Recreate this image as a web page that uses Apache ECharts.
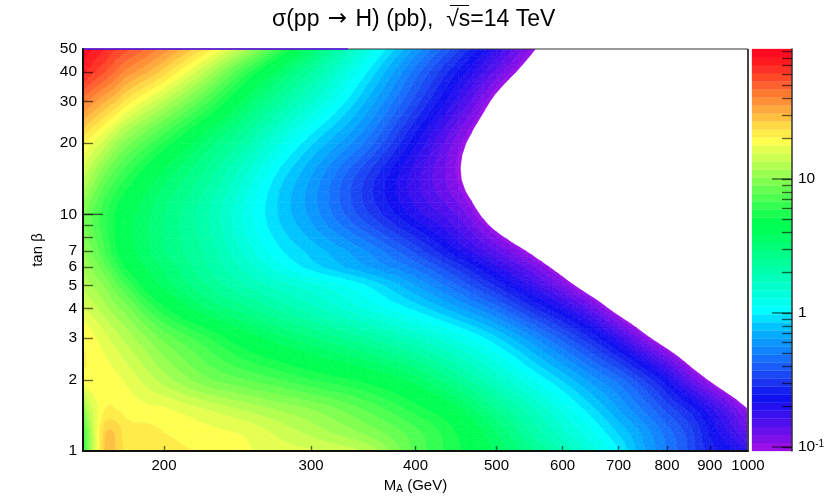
<!DOCTYPE html>
<html><head><meta charset="utf-8">
<style>html,body{margin:0;padding:0;background:#fff}#c{width:831px;height:503px}</style>
<script src="https://cdn.jsdelivr.net/npm/echarts@6/dist/echarts.min.js"></script>
</head><body><div id="c"></div>
<script>
const titleText = 'σ(pp {a|→} H) (pb),  √s=14 TeV';
const maValues = [160,163,170,175,180,190,200,225,250,275,300,350,400,450,500,550,600,650,700,750,800,850,900,950,1000];
const tanbValues = [1,1.2,1.5,2,3,4,5,6,7,10,14,20,30,40,50];
// log10(sigma / pb), one row per tan beta
const tb1   = [.75,1.02,1.43,1.43,1.35,1.34,1.33,1.30,1.26,1.22,1.20,1.12,.87,.72,.58,.43,.29,.14,0,-.18,-.31,-.44,-.58,-.64,-.72];
const tb1p2 = [.8,1.05,1.42,1.42,1.34,1.33,1.31,1.27,1.24,1.17,1.11,.99,.85,.70,.53,.34,.19,.06,-.08,-.21,-.34,-.46,-.62,-.74,-.87];
const tb1p5 = [.98,1.15,1.31,1.31,1.29,1.27,1.26,1.19,1.12,1.06,1.01,.88,.74,.61,.41,.25,.09,-.05,-.19,-.32,-.45,-.57,-.71,-.85,-1.0];
const tb2   = [1.28,1.29,1.29,1.27,1.24,1.17,1.10,.96,.89,.83,.77,.68,.56,.39,.22,.06,-.08,-.22,-.34,-.49,-.66,-.86,-1.02,-1.17,-1.32];
const tb3   = [1.30,1.28,1.21,1.16,1.11,1.02,.93,.78,.64,.55,.48,.35,.22,.09,-.06,-.23,-.40,-.56,-.75,-.95,-1.12,-1.27,-1.42,-1.55,-1.70];
const tb4   = [1.2,1.17,1.09,1.03,.98,.84,.72,.53,.43,.33,.25,.10,-.03,-.18,-.34,-.53,-.69,-.87,-1.08,-1.24,-1.38,-1.52,-1.66,-1.8,-1.9];
const tb5   = [1.12,1.08,1.0,.91,.83,.67,.57,.41,.29,.2,.13,-.01,-.19,-.37,-.56,-.74,-.92,-1.12,-1.3,-1.45,-1.6,-1.75,-1.9,-2,-2.1];
const tb6   = [1.06,1.02,.9,.8,.7,.59,.52,.35,.21,.07,-.04,-.19,-.33,-.52,-.72,-.89,-1.09,-1.3,-1.45,-1.6,-1.75,-1.9,-2,-2.15,-2.25];
const tb7   = [1.02,.97,.83,.72,.64,.55,.47,.33,.15,0,-.09,-.25,-.45,-.67,-.85,-1.03,-1.25,-1.45,-1.6,-1.75,-1.9,-2.05,-2.2,-2.3,-2.4];
const tb10  = [.97,.91,.78,.70,.63,.55,.47,.3,.09,-.08,-.21,-.48,-.7,-.86,-1.12,-1.35,-1.55,-1.72,-1.85,-2,-2.1,-2.2,-2.3,-2.4,-2.5];
const tb14  = [1.13,1.07,.91,.83,.76,.64,.55,.37,.16,-.05,-.2,-.51,-.77,-.98,-1.25,-1.5,-1.7,-1.85,-2,-2.1,-2.2,-2.3,-2.4,-2.5,-2.6];
const tb20  = [1.33,1.27,1.16,1.06,.98,.86,.75,.51,.32,.11,-.06,-.33,-.66,-.95,-1.2,-1.45,-1.65,-1.8,-1.95,-2.05,-2.15,-2.25,-2.35,-2.45,-2.55];
const tb30  = [1.63,1.59,1.49,1.43,1.35,1.23,1.12,.84,.57,.36,.19,-.14,-.46,-.76,-1.05,-1.3,-1.5,-1.7,-1.85,-2,-2.1,-2.2,-2.3,-2.4,-2.5];
const tb40  = [1.87,1.82,1.73,1.66,1.59,1.5,1.40,1.11,.80,.55,.36,-.01,-.34,-.62,-.87,-1.1,-1.3,-1.5,-1.7,-1.9,-2.1,-2.2,-2.3,-2.4,-2.5];
const tb50  = [1.95,1.92,1.85,1.79,1.75,1.67,1.58,1.35,1.09,.80,.54,.12,-.21,-.48,-.74,-.97,-1.2,-1.4,-1.6,-1.8,-2,-2.1,-2.2,-2.3,-2.4];
const logSigma = [tb1,tb1p2,tb1p5,tb2,tb3,tb4,tb5,tb6,tb7,tb10,tb14,tb20,tb30,tb40,tb50];

// contour levels in log10(sigma): 50 equal bands, lowest first
const levels = [-1.03,-.97,-.91,-.85,-.79,-.73,-.67,-.61,-.55,-.49,-.43,-.37,-.31,-.25,-.19,-.13,-.07,-.01,.05,.11,.17,.23,.29,.35,.41,.47,.53,.59,.65,.71,.77,.83,.89,.95,1.01,1.07,1.13,1.19,1.25,1.31,1.37,1.43,1.49,1.55,1.61,1.67,1.73,1.79,1.85,1.91,1.97];
const palette = ['#9a10e8','#8010ea','#6810ec','#5010ee','#3a10ee','#2410f0','#1010f0','#1420f0','#1a34f0','#1a48f4','#1a5cf8','#1670fc','#1084ff','#0a98ff','#04acff','#00c4ff','#00e0ff','#00ffff','#00ffee','#00ffdd','#00ffcc','#00ffbb','#00ffaa','#00ff99','#00ff88','#00ff77','#00ff66','#00ff55','#00ff50','#1aff50','#33ff50','#4dff50','#66ff50','#80ff50','#99ff50','#b3ff50','#ccff50','#e5ff50','#ffff50','#ffec48','#ffd845','#ffc040','#ffa83d','#ff9038','#ff7830','#ff6030','#ff4828','#ff3025','#ff1a20','#ff0a20'];
const topStripMA = [160,332];
const topStripTanb = [50,50];
const rightFrameMA = [1000,1000];
const rightFrameTanb = [1,50];
const xTickValues = [200,300,400,500,600,700,800,900];
const xLabelValues = [200,300,400,500,600,700,800,900,1000];
const yTickValues = [2,3,4,5,6,7,8,9,10,20,30,40];
const yLongTicks = [10];
const yLabelValues = [1,2,3,4,5,6,7,10,20,30,40,50];
const zAllTicks = [.1,.2,.3,.4,.5,.6,.7,.8,.9,1,2,3,4,5,6,7,8,9,10,20,30,40,50,60,70,80,90];
const zMajorTicks = [.1,1,10];

const FONT = '"Liberation Sans", Arial, sans-serif';
const fillFloor = -1.0;
const SUB = 3;

function clipPoly(poly, lim, above) {
  const out = [];
  const keep = p => above ? p[2] >= lim : p[2] <= lim;
  for (let k = 0; k < poly.length; k++) {
    const a = poly[k], b = poly[(k + 1) % poly.length];
    const ka = keep(a), kb = keep(b);
    if (ka) out.push(a);
    if (ka !== kb) {
      const t = (lim - a[2]) / (b[2] - a[2]);
      out.push([a[0] + t * (b[0] - a[0]), a[1] + t * (b[1] - a[1]), lim]);
    }
  }
  return out;
}

// Smooth contour surface through the read values (cubic Hermite drawing aid only)
function refine1D(xs, fs) {
  const n = xs.length, m = [], outX = [], outF = [];
  for (let i = 0; i < n; i++) {
    const a = Math.max(0, i - 1), b = Math.min(n - 1, i + 1);
    m.push((fs[b] - fs[a]) / (xs[b] - xs[a]));
  }
  for (let i = 0; i < n - 1; i++) {
    const h = xs[i + 1] - xs[i];
    for (let s = 0; s < SUB; s++) {
      const t = s / SUB, t2 = t * t, t3 = t2 * t;
      outX.push(xs[i] + t * h);
      outF.push((2*t3-3*t2+1)*fs[i] + (t3-2*t2+t)*h*m[i] + (-2*t3+3*t2)*fs[i+1] + (t3-t2)*h*m[i+1]);
    }
  }
  outX.push(xs[n - 1]); outF.push(fs[n - 1]);
  return [outX, outF];
}
const logX = maValues.map(Math.log10), logY = tanbValues.map(Math.log10);
const rowFine = logSigma.map(r => refine1D(logX, r));
const fineX = rowFine[0][0];
const colFine = fineX.map((_, i) => refine1D(logY, rowFine.map(r => r[1][i])));
const fineY = colFine[0][0];
const fineV = (i, j) => colFine[i][1][j];

const nodes = [];
tanbValues.forEach((t, j) => maValues.forEach((m, i) => nodes.push([m, t, logSigma[j][i]])));
const nx = maValues.length, ny = tanbValues.length;

function renderContourCell(params, api) {
  const idx = params.dataIndex, i = idx % nx, j = Math.floor(idx / nx);
  if (i >= nx - 1 || j >= ny - 1) return null;
  const children = [];
  const P = (a, b) => [fineX[a], fineY[b], fineV(a, b)];
  for (let si = i * SUB; si < (i + 1) * SUB; si++) {
    for (let sj = j * SUB; sj < (j + 1) * SUB; sj++) {
      const c0 = P(si, sj), c1 = P(si + 1, sj), c2 = P(si + 1, sj + 1), c3 = P(si, sj + 1);
      for (const tri of [[c0, c1, c2], [c0, c2, c3]]) {
        const vs = tri.map(p => p[2]);
        const vmin = Math.min(...vs), vmax = Math.max(...vs);
        for (let b = 0; b < palette.length; b++) {
          const lo = b === 0 ? fillFloor : levels[b];
          const hi = b === palette.length - 1 ? 9 : levels[b + 1];
          if (hi < vmin || lo > vmax) continue;
          let poly = clipPoly(tri, lo, true);
          if (poly.length < 3) continue;
          poly = clipPoly(poly, hi, false);
          if (poly.length < 3) continue;
          const points = poly.map(p => api.coord([Math.pow(10, p[0]), Math.pow(10, p[1])]));
          children.push({type: 'polygon', shape: {points}, style: {fill: palette[b], stroke: palette[b], lineWidth: .6}});
        }
      }
    }
  }
  return {type: 'group', children};
}

function renderBarBand(params, api) {
  const b = api.value(0);
  const p0 = api.coord([0, Math.pow(10, levels[b])]);
  const p1 = api.coord([1, Math.pow(10, levels[b + 1])]);
  return {type: 'rect', shape: {x: p0[0], y: p1[1], width: p1[0] - p0[0], height: p0[1] - p1[1]},
    style: {fill: palette[b], stroke: palette[b], lineWidth: .3}};
}
const tickLine = {stroke: '#000', opacity: .6, lineWidth: 1.4};
function renderLongTickLeft(params, api) {
  const p = api.coord([api.value(0), api.value(1)]);
  return {type: 'line', shape: {x1: p[0], y1: p[1], x2: p[0] + 20, y2: p[1]}, style: tickLine};
}
function renderLongTickRight(params, api) {
  const p = api.coord([api.value(0), api.value(1)]);
  return {type: 'line', shape: {x1: p[0], y1: p[1], x2: p[0] - 20, y2: p[1]}, style: tickLine};
}

const tickStyle = {color: '#000', opacity: .6, width: 1.4};
const chart = echarts.init(document.getElementById('c'), null, {renderer: 'canvas'});
chart.setOption({
  animation: false,
  backgroundColor: '#fff',
  title: {text: titleText, left: 267, top: 3, textStyle: {fontFamily: FONT, fontSize: 23, fontWeight: 'normal', color: '#000',
    rich: {a: {fontFamily: '"DejaVu Sans"', fontSize: 23, color: '#000', padding: [0, 2, 0, 2]}}}},
  graphic: [{type: 'line', shape: {x1: 450, y1: 5.5, x2: 469, y2: 5.5}, style: {stroke: '#000', lineWidth: 1}, z: 50}],
  grid: [
    {left: 83, top: 49, width: 665, height: 402, show: true, borderColor: '#333', borderWidth: 1, z: 5},
    {left: 752, top: 49, width: 40, height: 402, show: false}
  ],
  xAxis: [
    {type: 'log', logBase: 10, min: 160, max: 1000, gridIndex: 0,
      name: 'M{s|A} (GeV)', nameLocation: 'middle', nameGap: 22,
      nameTextStyle: {fontFamily: FONT, fontSize: 15, color: '#000', rich: {s: {fontSize: 10, verticalAlign: 'bottom', padding: [8, 0, 0, 0], fontFamily: FONT, color: '#000'}}},
      axisLine: {show: true, onZero: false, lineStyle: {color: '#111', width: 2}},
      axisTick: {show: true, inside: true, length: 5, customValues: xTickValues, lineStyle: tickStyle},
      axisLabel: {show: true, margin: 7, customValues: xLabelValues, formatter: v => String(Math.round(v)), hideOverlap: false, showMinLabel: true, showMaxLabel: true, fontFamily: FONT, fontSize: 15, color: '#000'},
      splitLine: {show: false}, minorTick: {show: false}, z: 10},
    {type: 'value', min: 0, max: 1, gridIndex: 1, show: false}
  ],
  yAxis: [
    {type: 'log', logBase: 10, min: 1, max: 50, gridIndex: 0,
      name: 'tan β', nameLocation: 'middle', nameGap: 38, nameRotate: 90,
      nameTextStyle: {fontFamily: FONT, fontSize: 15, color: '#000'},
      axisLine: {show: true, onZero: false, lineStyle: {color: '#111', width: 2}},
      axisTick: {show: true, inside: true, length: 10, customValues: yTickValues, lineStyle: tickStyle},
      axisLabel: {show: true, margin: 6, customValues: yLabelValues, formatter: v => String(Math.round(v)), hideOverlap: false, showMinLabel: true, showMaxLabel: true, fontFamily: FONT, fontSize: 15.5, color: '#000'},
      splitLine: {show: false}, z: 10},
    {type: 'log', logBase: 10, min: Math.pow(10, levels[0]), max: Math.pow(10, levels[50]), gridIndex: 1, position: 'right',
      axisLine: {show: true, onZero: false, lineStyle: {color: '#333', width: 1.5}},
      axisTick: {show: true, inside: true, length: 10, customValues: zAllTicks, lineStyle: tickStyle},
      axisLabel: {show: true, margin: 6, customValues: zMajorTicks, hideOverlap: false, showMinLabel: true, showMaxLabel: true,
        formatter: v => v < .5 ? '10{e|-1}' : String(Math.round(v)),
        fontFamily: FONT, fontSize: 15.5, color: '#000', rich: {e: {fontSize: 10, verticalAlign: 'top', padding: [0, 0, 6, 0], fontFamily: FONT, color: '#000'}}},
      splitLine: {show: false}, z: 10}
  ],
  series: [
    {type: 'custom', name: 'sigma', coordinateSystem: 'cartesian2d', xAxisIndex: 0, yAxisIndex: 0, data: nodes,
      renderItem: renderContourCell, silent: true, clip: true, progressive: 0, animation: false, z: 2},
    {type: 'line', name: 'top strip', xAxisIndex: 0, yAxisIndex: 0, data: topStripMA.map((m, i) => [m, topStripTanb[i]]),
      symbol: 'none', silent: true, clip: false, lineStyle: {color: '#5a10ee', width: 1.5}, z: 6},
    {type: 'line', name: 'right frame', xAxisIndex: 0, yAxisIndex: 0, data: rightFrameMA.map((m, i) => [m, rightFrameTanb[i]]),
      symbol: 'none', silent: true, clip: false, lineStyle: {color: '#444', width: 2}, z: 6},
    {type: 'custom', name: 'long ticks', coordinateSystem: 'cartesian2d', xAxisIndex: 0, yAxisIndex: 0, data: yLongTicks.map(t => [160, t]),
      renderItem: renderLongTickLeft, silent: true, clip: false, animation: false, z: 6},
    {type: 'custom', name: 'palette', coordinateSystem: 'cartesian2d', xAxisIndex: 1, yAxisIndex: 1, data: palette.map((c, b) => [b]),
      encode: {x: 0}, renderItem: renderBarBand, silent: true, progressive: 0, animation: false, z: 2},
    {type: 'custom', name: 'palette long ticks', coordinateSystem: 'cartesian2d', xAxisIndex: 1, yAxisIndex: 1, data: zMajorTicks.map(t => [1, t]),
      renderItem: renderLongTickRight, silent: true, clip: false, animation: false, z: 6}
  ]
});
</script></body></html>
